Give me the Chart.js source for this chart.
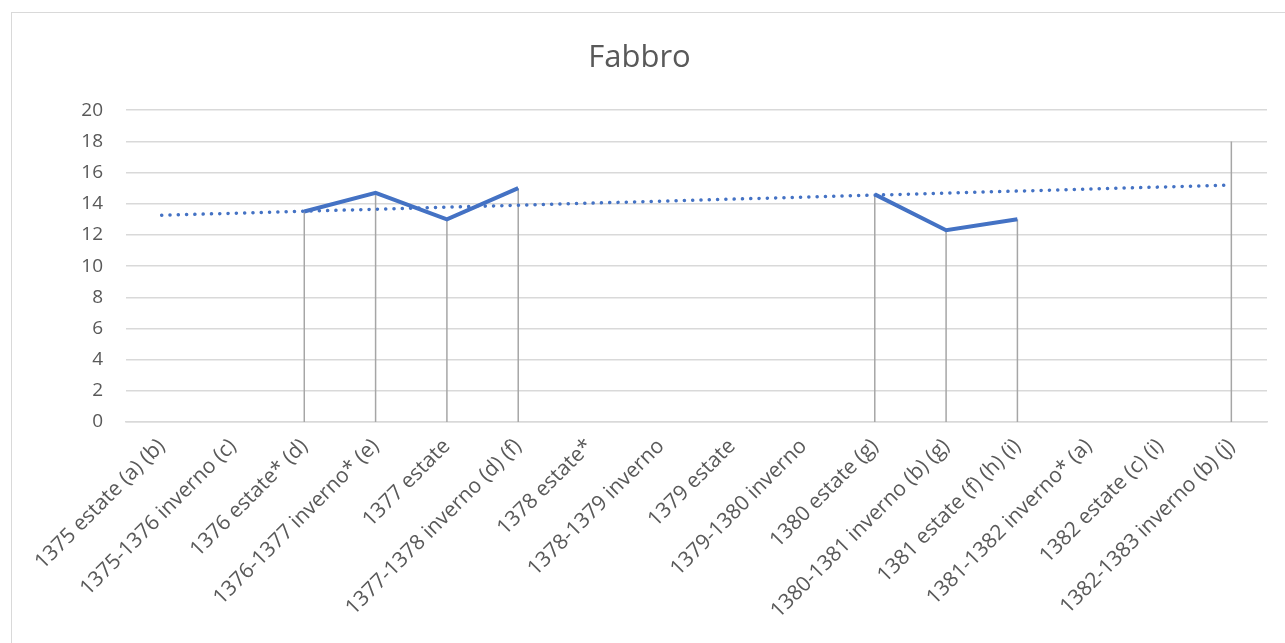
<!DOCTYPE html>
<html>
<head>
<meta charset="utf-8">
<script src="https://cdn.jsdelivr.net/npm/chart.js@4/dist/chart.umd.min.js"></script>
<style>
  html, body { margin: 0; padding: 0; background: #fff; }
  #wrap { width: 1285px; height: 643px; position: relative; }
</style>
</head>
<body>
<div id="wrap"><canvas id="c" width="1285" height="643"></canvas></div>
<script>
const labels = [
  "1375 estate (a) (b)", "1375-1376 inverno (c)", "1376 estate* (d)", "1376-1377 inverno* (e)",
  "1377 estate", "1377-1378 inverno (d) (f)", "1378 estate*", "1378-1379 inverno",
  "1379 estate", "1379-1380 inverno", "1380 estate (g)", "1380-1381 inverno (b) (g)",
  "1381 estate (f) (h) (i)", "1381-1382 inverno* (a)", "1382 estate (c) (i)", "1382-1383 inverno (b) (j)"
];

const fabbro = [null, null, 13.5, 14.7, 13.0, 15.0, null, null, null, null, 14.6, 12.3, 13.0, null, null, 18];

// linear trend, only its two ends
const trend = [13.26, null, null, null, null, null, null, null, null, null, null, null, null, null, null, 15.2];

const yTicks = [0, 2, 4, 6, 8, 10, 12, 14, 16, 18, 20];

const gray = "#595959";

// drop lines from each point down to the axis
const dropLines = {
  id: "dropLines",
  beforeDatasetsDraw(chart) {
    const ctx = chart.ctx;
    const y0 = chart.scales.y.getPixelForValue(0);
    const meta = chart.getDatasetMeta(0);
    ctx.save();
    ctx.strokeStyle = "#a6a6a6";
    ctx.lineWidth = 1.5;
    meta.data.forEach((pt, i) => {
      if (fabbro[i] == null) return;
      ctx.beginPath();
      ctx.moveTo(pt.x, pt.y);
      ctx.lineTo(pt.x, y0);
      ctx.stroke();
    });
    ctx.restore();
  }
};

const frame = {
  id: "frame",
  beforeDraw(chart) {
    const ctx = chart.ctx;
    ctx.save();
    ctx.fillStyle = "#fff";
    ctx.fillRect(0, 0, chart.width, chart.height);
    ctx.strokeStyle = "#d9d9d9";
    ctx.lineWidth = 1;
    ctx.strokeRect(11.5, 12.5, chart.width, chart.height);
    ctx.restore();
  }
};

new Chart(document.getElementById("c").getContext("2d"), {
  type: "line",
  data: {
    labels: labels,
    datasets: [
      {
        label: "Fabbro",
        data: fabbro,
        borderColor: "#4472C4",
        borderWidth: 4,
        pointRadius: 0,
        tension: 0,
        fill: false,
        spanGaps: false,
      },
      {
        label: "Lineare (Fabbro)",
        data: trend,
        borderColor: "#4472C4",
        borderWidth: 3.5,
        borderDash: [0.1, 8.2],
        borderCapStyle: "round",
        pointRadius: 0,
        tension: 0,
        fill: false,
        spanGaps: true,
      },
    ],
  },
  options: {
    responsive: false,
    animation: false,
    layout: { padding: { left: 12, right: 18, top: 0, bottom: 0 } },
    plugins: {
      legend: { display: false },
      tooltip: { enabled: false },
      title: {
        display: true,
        text: "Fabbro",
        color: gray,
        font: { family: "'Open Sans', sans-serif", size: 31, weight: "normal" },
        padding: { top: 40, bottom: 33 },
      },
    },
    scales: {
      x: {
        offset: true,
        grid: { display: false, drawTicks: false },
        border: { color: "#d9d9d9", width: 1.5 },
        ticks: {
          color: gray,
          font: { family: "'Open Sans', sans-serif", size: 21 },
          maxRotation: 45,
          minRotation: 45,
          autoSkip: false,
          padding: 12,
        },
        afterFit(scale) { scale.height = 221; },
      },
      y: {
        min: 0,
        max: 20,
        afterBuildTicks(scale) { scale.ticks = yTicks.map((v) => ({ value: v })); },
        grid: { color: "#d9d9d9", lineWidth: 1.5, drawTicks: false },
        border: { display: false },
        ticks: {
          color: gray,
          font: { family: "'Open Sans', sans-serif", size: 19 },
          padding: 23,
        },
        afterFit(scale) { scale.width = 114; },
      },
    },
  },
  plugins: [frame, dropLines],
});
</script>
</body>
</html>
